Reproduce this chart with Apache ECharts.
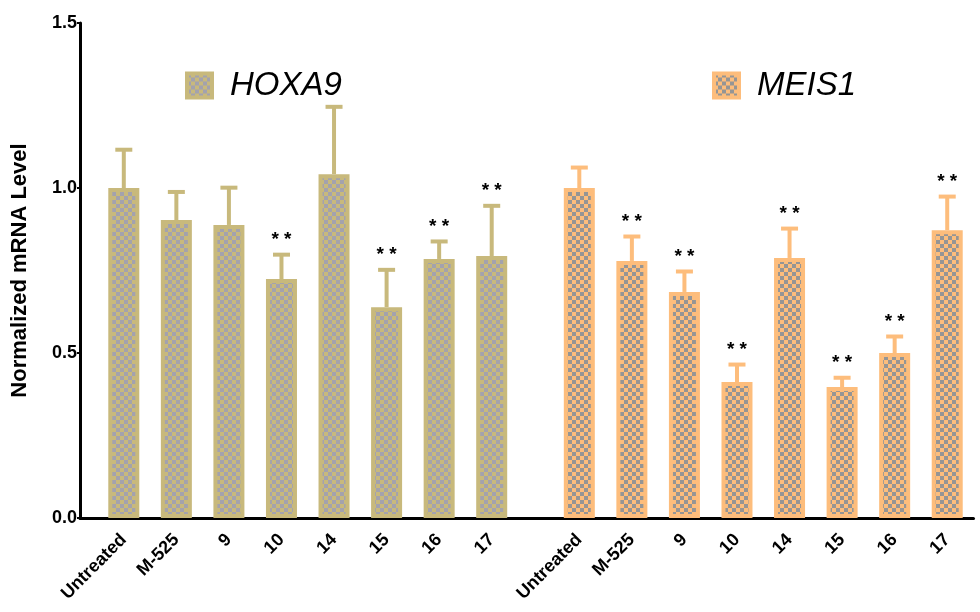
<!DOCTYPE html>
<html><head><meta charset="utf-8">
<script src="https://cdn.jsdelivr.net/npm/echarts@6/dist/echarts.min.js"></script>
<style>html,body{margin:0;padding:0;background:#fff}#c{width:980px;height:612px}</style>
</head><body><div id="c"></div>
<script>
// ---- data ----
const groupNames = ['HOXA9', 'MEIS1'];
const categories = ['Untreated', 'M-525', '9', '10', '14', '15', '16', '17'];
const hoxa9 = [1.0, 0.903, 0.888, 0.724, 1.042, 0.639, 0.785, 0.794];
const hoxa9Err = [0.116, 0.085, 0.113, 0.074, 0.204, 0.113, 0.053, 0.152];
const hoxa9Sig = ['', '', '', '**', '', '**', '**', '**'];
const meis1 = [1.0, 0.779, 0.685, 0.412, 0.788, 0.397, 0.5, 0.872];
const meis1Err = [0.062, 0.074, 0.062, 0.053, 0.089, 0.028, 0.05, 0.102];
const meis1Sig = ['', '**', '**', '**', '**', '**', '**', '**'];
const yTicks = [0, 0.5, 1.0, 1.5];

// ---- layout helpers (slot positions on a fine category axis) ----
const LEAD = 2, STEP = 3, GROUP_GAP = 5, TOTAL = 51;
function slotIndex(g, i) { return LEAD + g * ((categories.length - 1) * STEP + GROUP_GAP) + i * STEP; }

const axisKeys = [];
for (let k = 0; k < TOTAL; k++) axisKeys.push('_' + k);
categories.forEach((c, i) => {
  axisKeys[slotIndex(0, i)] = groupNames[0] + '|' + c;
  axisKeys[slotIndex(1, i)] = groupNames[1] + '|' + c;
});
function isLabel(idx) { return axisKeys[idx].charAt(0) !== '_'; }

const colors = {
  HOXA9: { border: '#c8b97c', check: '#a3a2ae' },
  MEIS1: { border: '#fdbd7c', check: '#959595' }
};
function makePattern(bg, fg) {
  const cv = document.createElement('canvas');
  cv.width = 8; cv.height = 8;
  const ctx = cv.getContext('2d');
  ctx.fillStyle = bg; ctx.fillRect(0, 0, 8, 8);
  ctx.fillStyle = fg; ctx.fillRect(0, 0, 4, 4); ctx.fillRect(4, 4, 4, 4);
  return { image: cv, repeat: 'repeat' };
}

function barData(g, vals) {
  const arr = new Array(TOTAL).fill(null);
  vals.forEach((v, i) => { arr[slotIndex(g, i)] = v; });
  return arr;
}
function errData(g, vals, errs) {
  return vals.map((v, i) => [slotIndex(g, i), v, errs[i]]);
}
function errRender(color, sigArr) {
  return function (params, api) {
    const x = api.value(0), v = api.value(1), e = api.value(2);
    const s = params.dataIndex;
    const base = api.coord([x, v]);
    const top = api.coord([x, v + e]);
    const children = [
      { type: 'line', shape: { x1: base[0], y1: base[1], x2: top[0], y2: top[1] }, style: { stroke: color, lineWidth: 4 } },
      { type: 'line', shape: { x1: top[0] - 8.5, y1: top[1], x2: top[0] + 8.5, y2: top[1] }, style: { stroke: color, lineWidth: 4 } }
    ];
    if (sigArr[s]) {
      children.push({ type: 'text', style: { text: sigArr[s].split('').join(' '), x: top[0], y: top[1] - 15, fill: '#000', fontSize: 19, fontWeight: 'bold', fontFamily: 'Liberation Sans', align: 'center', verticalAlign: 'middle' } });
    }
    return { type: 'group', children: children };
  };
}

const chart = echarts.init(document.getElementById('c'), null, { renderer: 'canvas' });
const legendText = { fontFamily: 'Liberation Sans', fontStyle: 'italic', fontSize: 33, color: '#000', padding: [0, 0, 0, 13] };
chart.setOption({
  animation: false,
  backgroundColor: '#fff',
  legend: [
    { data: ['HOXA9'], left: 185, top: 69, padding: 0, icon: 'rect', itemWidth: 25, itemHeight: 24,
      itemStyle: { borderWidth: 4, borderColor: colors.HOXA9.border }, textStyle: legendText },
    { data: ['MEIS1'], left: 712, top: 69, padding: 0, icon: 'rect', itemWidth: 25, itemHeight: 24,
      itemStyle: { borderWidth: 4, borderColor: colors.MEIS1.border }, textStyle: legendText }
  ],
  grid: { left: 80, top: 23, width: 893.5, height: 495 },
  xAxis: {
    type: 'category', data: axisKeys,
    axisLine: { lineStyle: { color: '#000', width: 3 } },
    axisTick: { alignWithLabel: true, interval: (idx) => isLabel(idx), length: 7, lineStyle: { color: '#000', width: 3 } },
    axisLabel: {
      interval: (idx) => isLabel(idx), rotate: 45, margin: 19,
      fontFamily: 'Liberation Sans', fontWeight: 'bold', fontSize: 18, color: '#000',
      formatter: (v) => v.charAt(0) === '_' ? '' : v.split('|')[1]
    }
  },
  yAxis: {
    type: 'value', min: yTicks[0], max: yTicks[yTicks.length - 1], interval: 0.5,
    name: 'Normalized mRNA Level', nameLocation: 'middle', nameGap: 49,
    nameTextStyle: { fontFamily: 'Liberation Sans', fontWeight: 'bold', fontSize: 22, color: '#000' },
    axisLine: { show: true, lineStyle: { color: '#000', width: 3 } },
    axisTick: { show: true, length: 3, lineStyle: { color: '#000', width: 2 } },
    splitLine: { show: false },
    axisLabel: { margin: 3, fontFamily: 'Liberation Sans', fontWeight: 'bold', fontSize: 18, color: '#000',
      formatter: (v) => v.toFixed(1) }
  },
  series: [
    { name: 'HOXA9', type: 'bar', barWidth: 31, barGap: '-100%', data: barData(0, hoxa9),
      itemStyle: { color: makePattern(colors.HOXA9.border, colors.HOXA9.check), borderColor: colors.HOXA9.border, borderWidth: 4 } },
    { name: 'MEIS1', type: 'bar', barWidth: 31, barGap: '-100%', data: barData(1, meis1),
      itemStyle: { color: makePattern(colors.MEIS1.border, colors.MEIS1.check), borderColor: colors.MEIS1.border, borderWidth: 4 } },
    { name: 'HOXA9 err', type: 'custom', renderItem: errRender(colors.HOXA9.border, hoxa9Sig), data: errData(0, hoxa9, hoxa9Err), z: 1 },
    { name: 'MEIS1 err', type: 'custom', renderItem: errRender(colors.MEIS1.border, meis1Sig), data: errData(1, meis1, meis1Err), z: 1 }
  ]
});
</script></body></html>
